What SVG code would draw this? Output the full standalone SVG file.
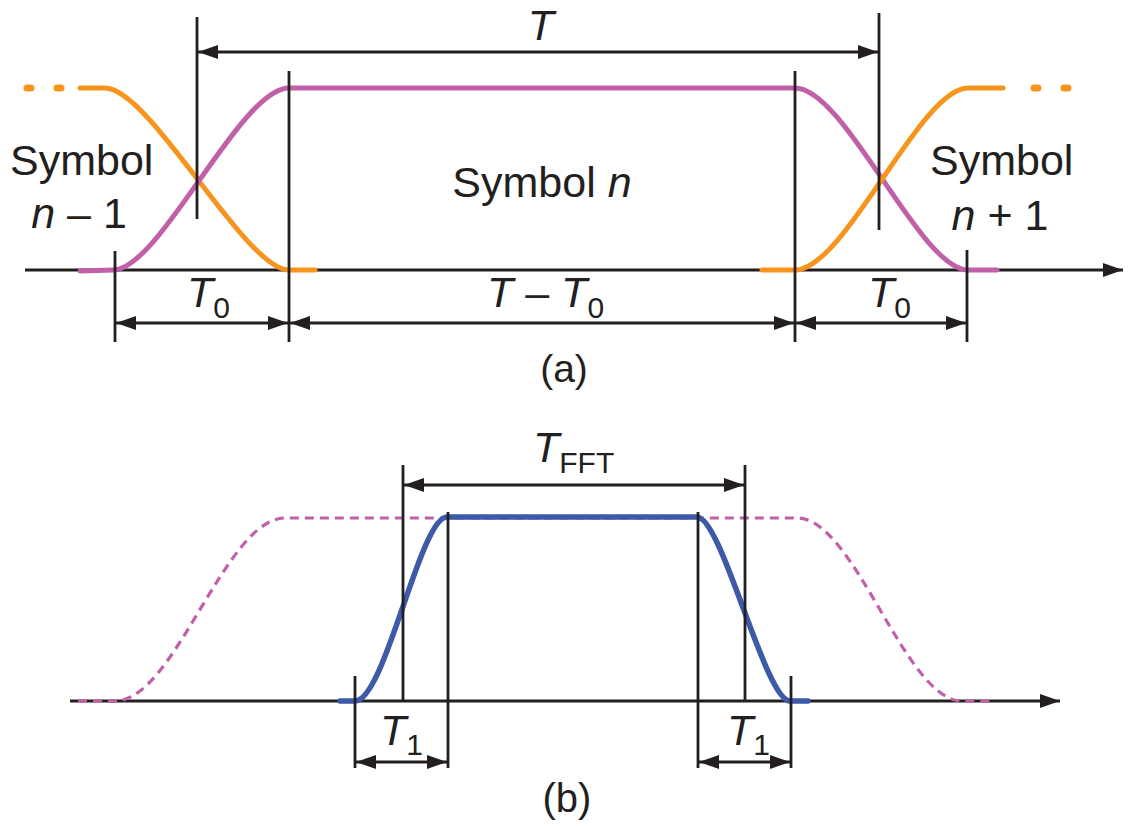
<svg xmlns="http://www.w3.org/2000/svg" width="1131" height="827" viewBox="0 0 1131 827">
<defs>
<marker id="ah" viewBox="0 0 20 14" refX="20" refY="7" markerWidth="20" markerHeight="14" markerUnits="userSpaceOnUse" orient="auto-start-reverse">
<path d="M0,0 L20,7 L0,14 z" fill="#231F20"/>
</marker>
<style>
.ax{stroke:#231F20;stroke-width:3;fill:none}
.vl{stroke:#231F20;stroke-width:2.8;fill:none}
.dim{stroke:#231F20;stroke-width:3;fill:none}
.or{stroke:#F7941D;stroke-width:5;fill:none;stroke-linecap:round}
.ordot{stroke:#F7941D;stroke-width:7;fill:none;stroke-linecap:round}
.mg{stroke:#C060A8;stroke-width:5;fill:none;stroke-linecap:round}
.bl{stroke:#3D5AA8;stroke-width:5.5;fill:none;stroke-linecap:round}
.dsh{stroke:#C060A8;stroke-width:3.2;fill:none;stroke-dasharray:9,6}
text{font-family:"Liberation Sans",Arial,sans-serif;fill:#231F20}
.lb{font-size:43px}
.sub{font-size:30px}
.it{font-style:italic}
</style>
</defs>
<rect width="1131" height="827" fill="#FFFFFF"/>

<g id="panel-a">
<g id="axis-a"><line class="ax" x1="25" y1="270" x2="1123" y2="270" marker-end="url(#ah)"/></g>
<g id="curves-a">
<path class="ordot" d="M27,88 L31,88 M57,88 L61,88"/>
<path class="or" d="M80,88 L105,88 C150,88 245,270 289,270 L315,270"/>
<path class="mg" d="M80,271 L113,270 C160,270 240,88 289,88 L795,88 C845,88 920,270 968,270 L997,270"/>
<path class="or" d="M762,270 L795,270 C845,270 920,88 968,88 L1003,88"/>
<path class="ordot" d="M1034,88 L1038,88 M1064,88 L1068,88"/>
</g>
<g id="verticals-a">
<line class="vl" x1="197" y1="17" x2="197" y2="219"/>
<line class="vl" x1="879" y1="13" x2="879" y2="230"/>
<line class="vl" x1="115" y1="251" x2="115" y2="342"/>
<line class="vl" x1="289" y1="71" x2="289" y2="342"/>
<line class="vl" x1="795" y1="71" x2="795" y2="342"/>
<line class="vl" x1="967" y1="250" x2="967" y2="342"/>
</g>
<g id="connectors-a">
<line class="dim" x1="198" y1="52" x2="878" y2="52" marker-start="url(#ah)" marker-end="url(#ah)"/>
<line class="dim" x1="116" y1="323" x2="288" y2="323" marker-start="url(#ah)" marker-end="url(#ah)"/>
<line class="dim" x1="290" y1="323" x2="794" y2="323" marker-start="url(#ah)" marker-end="url(#ah)"/>
<line class="dim" x1="796" y1="323" x2="966" y2="323" marker-start="url(#ah)" marker-end="url(#ah)"/>
</g>
<g id="labels-a">
<text class="lb it" x="541" y="40" text-anchor="middle">T</text>
<text class="lb" x="10" y="175">Symbol</text>
<text class="lb" x="79" y="228" text-anchor="middle"><tspan class="it">n</tspan> – 1</text>
<text class="lb" x="542" y="197" text-anchor="middle">Symbol <tspan class="it">n</tspan></text>
<text class="lb" x="930" y="175">Symbol</text>
<text class="lb" x="1000" y="230" text-anchor="middle"><tspan class="it">n</tspan> + 1</text>
<text class="lb" x="187" y="307"><tspan class="it">T</tspan><tspan class="sub" dy="11">0</tspan></text>
<text class="lb" x="487" y="307"><tspan class="it">T</tspan> – <tspan class="it">T</tspan><tspan class="sub" dy="11">0</tspan></text>
<text class="lb" x="868" y="307"><tspan class="it">T</tspan><tspan class="sub" dy="11">0</tspan></text>
<text x="564" y="382" font-size="39" text-anchor="middle">(a)</text>
</g>
</g>

<g id="panel-b">
<g id="axis-b"><line class="ax" x1="70" y1="701" x2="1060" y2="701" marker-end="url(#ah)"/></g>
<g id="curves-b">
<path class="dsh" d="M78,701 L115,701 C175,701 225,518 285,518 L797,518 C855,518 905,701 962,701 L995,701"/>
<path class="bl" d="M340,701 L355,701 C385,701 420,517 447,517 L697,517 C722,517 765,701 790,701 L808,701"/>
</g>
<g id="verticals-b">
<line class="vl" x1="355" y1="676" x2="355" y2="768"/>
<line class="vl" x1="403" y1="465" x2="403" y2="701"/>
<line class="vl" x1="448" y1="512" x2="448" y2="768"/>
<line class="vl" x1="698" y1="512" x2="698" y2="768"/>
<line class="vl" x1="745" y1="465" x2="745" y2="701"/>
<line class="vl" x1="791" y1="676" x2="791" y2="768"/>
</g>
<g id="connectors-b">
<line class="dim" x1="404" y1="485" x2="744" y2="485" marker-start="url(#ah)" marker-end="url(#ah)"/>
<line class="dim" x1="356" y1="762" x2="447" y2="762" marker-start="url(#ah)" marker-end="url(#ah)"/>
<line class="dim" x1="699" y1="762" x2="790" y2="762" marker-start="url(#ah)" marker-end="url(#ah)"/>
</g>
<g id="labels-b">
<text class="lb" x="533" y="462"><tspan class="it">T</tspan><tspan class="sub" dy="11">FFT</tspan></text>
<text class="lb" x="380" y="745"><tspan class="it">T</tspan><tspan class="sub" dy="10">1</tspan></text>
<text class="lb" x="727" y="745"><tspan class="it">T</tspan><tspan class="sub" dy="10">1</tspan></text>
<text x="567" y="812" font-size="40" text-anchor="middle">(b)</text>
</g>
</g>
</svg>
